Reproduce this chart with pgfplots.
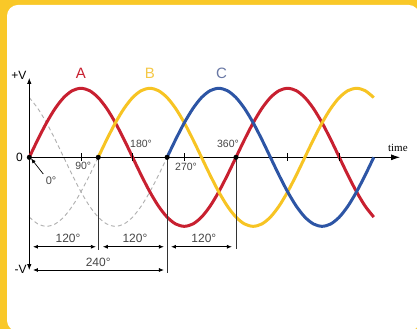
\documentclass[border=0pt]{standalone}
\usepackage{pgfplots}
\pgfplotsset{compat=1.18}
\usepackage{fontspec}
\setmainfont{Liberation Sans}
\newfontfamily\serif{Liberation Serif}
\usetikzlibrary{arrows.meta}

\definecolor{frame}{RGB}{249,200,40}
\definecolor{phaseA}{RGB}{200,32,48}
\definecolor{phaseB}{RGB}{247,196,35}
\definecolor{phaseC}{RGB}{45,85,165}
\definecolor{labB}{RGB}{245,200,70}
\definecolor{labC}{RGB}{105,120,165}
\definecolor{dashgray}{RGB}{175,175,175}
\definecolor{txt}{RGB}{70,70,70}

\begin{document}
\begin{tikzpicture}
\begin{axis}[
  scale only axis, width=417pt, height=329pt,
  xmin=-51.0, xmax=675.3, ymin=-2.488, ymax=2.280,
  hide axis, clip=false,
]
% frame: yellow on the left and top, white card running off right and bottom
\fill[frame] (rel axis cs:0,0) rectangle (rel axis cs:1,1);
\fill[white, rounded corners=11pt, overlay] (rel axis cs:0.0168,0.985) rectangle (rel axis cs:1.006,-0.007);

% dashed continuation of B and C before they start
\addplot[dashgray, line width=0.9pt, dash pattern=on 4pt off 3pt, smooth] coordinates {
(0,.866)(15,.707)(30,.5)(45,.259)(60,0)(75,-.259)(90,-.5)(105,-.707)(120,-.866)(135,-.966)(150,-1)(165,-.966)(180,-.866)(195,-.707)(210,-.5)(225,-.259)(240,0)};
\addplot[dashgray, line width=0.9pt, dash pattern=on 4pt off 3pt, smooth] coordinates {
(0,-.866)(15,-.966)(30,-1)(45,-.966)(60,-.866)(75,-.707)(90,-.5)(105,-.259)(120,0)};

% axes
\draw[black, line width=0.8pt, {Latex[length=6pt,width=4.5pt]}-{Latex[length=6pt,width=4.5pt]}] (axis cs:0,1.15) -- (axis cs:0,-1.633);
\draw[black, line width=0.8pt, -{Latex[length=9pt,width=6pt]}] (axis cs:0,0) -- (axis cs:645.7,0);

% phases
\addplot[phaseA, line width=3pt, smooth] coordinates {
(0,0)(15,.259)(30,.5)(45,.707)(60,.866)(75,.966)(90,1)(105,.966)(120,.866)(135,.707)(150,.5)(165,.259)(180,0)(195,-.259)(210,-.5)(225,-.707)(240,-.866)(255,-.966)(270,-1)(285,-.966)(300,-.866)(315,-.707)(330,-.5)(345,-.259)(360,0)(375,.259)(390,.5)(405,.707)(420,.866)(435,.966)(450,1)(465,.966)(480,.866)(495,.707)(510,.5)(525,.259)(540,0)(555,-.259)(570,-.5)(585,-.707)(600,-.866)};
\addplot[phaseB, line width=3pt, smooth] coordinates {
(120,0)(135,.259)(150,.5)(165,.707)(180,.866)(195,.966)(210,1)(225,.966)(240,.866)(255,.707)(270,.5)(285,.259)(300,0)(315,-.259)(330,-.5)(345,-.707)(360,-.866)(375,-.966)(390,-1)(405,-.966)(420,-.866)(435,-.707)(450,-.5)(465,-.259)(480,0)(495,.259)(510,.5)(525,.707)(540,.866)(555,.966)(570,1)(585,.966)(600,.866)};
\addplot[phaseC, line width=3pt, smooth] coordinates {
(240,0)(255,.259)(270,.5)(285,.707)(300,.866)(315,.966)(330,1)(345,.966)(360,.866)(375,.707)(390,.5)(405,.259)(420,0)(435,-.259)(450,-.5)(465,-.707)(480,-.866)(495,-.966)(510,-1)(525,-.966)(540,-.866)(555,-.707)(570,-.5)(585,-.259)(600,0)};

% ticks and dots on the time axis
\addplot[black, only marks, mark=|, mark size=4pt, mark options={line width=0.8pt}] coordinates {(90,0)(180,0)(270,0)(450,0)(540,0)};
\addplot[black, only marks, mark=*, mark size=2.3pt] coordinates {(0,0)(120,0)(240,0)(360,0)};

% vertical guides
\draw[black!80, line width=0.7pt] (axis cs:120,0) -- (axis cs:120,-1.343);
\draw[black!80, line width=0.7pt] (axis cs:240,0) -- (axis cs:240,-1.677);
\draw[black!80, line width=0.7pt] (axis cs:360,0) -- (axis cs:360,-1.33);

% dimension arrows
\tikzset{dim/.style={black, line width=0.8pt, {Latex[length=5pt,width=4pt]}-{Latex[length=5pt,width=4pt]}}}
\draw[dim] (axis cs:6.4,-1.296) -- (axis cs:116,-1.296);
\draw[dim] (axis cs:128,-1.296) -- (axis cs:234.6,-1.296);
\draw[dim] (axis cs:246.8,-1.296) -- (axis cs:353,-1.296);
\draw[dim] (axis cs:6.4,-1.633) -- (axis cs:234.6,-1.633);

% texts
\node[phaseA, font=\fontsize{15}{15}\selectfont] at (axis cs:90,1.214) {A};
\node[labB, font=\fontsize{15}{15}\selectfont] at (axis cs:210,1.214) {B};
\node[labC, font=\fontsize{15}{15}\selectfont] at (axis cs:335,1.214) {C};
\node[black, font=\fontsize{12}{12}\selectfont] at (axis cs:-18,1.19) {+V};
\node[black, font=\fontsize{12}{12}\selectfont] at (axis cs:-15,-1.63) {-V};
\node[black, font=\fontsize{12}{12}\selectfont] at (axis cs:-17,0) {0};
\node[black, font=\serif\fontsize{11}{11}\selectfont] at (axis cs:642,0.14) {time};

\node[txt, font=\fontsize{10.5}{10.5}\selectfont] at (axis cs:94,-0.13) {90°};
\node[txt, font=\fontsize{10.5}{10.5}\selectfont] at (axis cs:194.7,0.19) {180°};
\node[txt, font=\fontsize{10.5}{10.5}\selectfont] at (axis cs:273,-0.14) {270°};
\node[txt, font=\fontsize{10.5}{10.5}\selectfont] at (axis cs:346,0.19) {360°};
\node[txt, font=\fontsize{11}{11}\selectfont] at (axis cs:38,-0.336) {0°};
\draw[black, line width=0.7pt, -{Latex[length=5pt,width=4pt]}] (axis cs:24.4,-0.242) -- (axis cs:3,-0.015);

\node[txt, font=\fontsize{12}{12}\selectfont] at (axis cs:67.5,-1.177) {120°};
\node[txt, font=\fontsize{12}{12}\selectfont] at (axis cs:184,-1.177) {120°};
\node[txt, font=\fontsize{12}{12}\selectfont] at (axis cs:304,-1.177) {120°};
\node[txt, font=\fontsize{12}{12}\selectfont] at (axis cs:120,-1.525) {240°};
\end{axis}
\end{tikzpicture}
\end{document}
